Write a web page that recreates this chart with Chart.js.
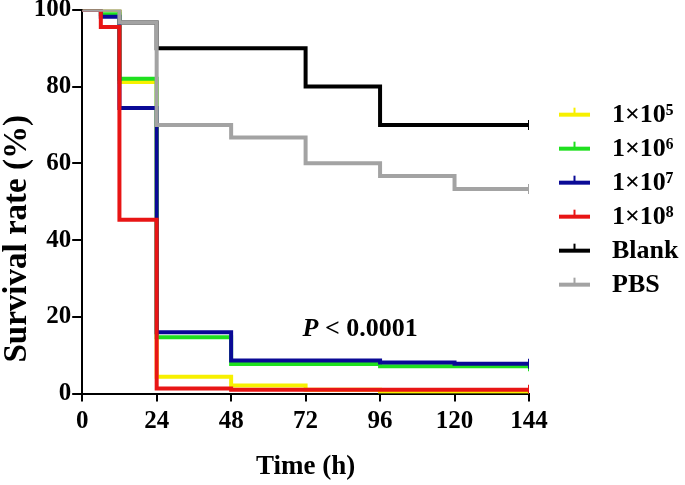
<!DOCTYPE html>
<html>
<head>
<meta charset="utf-8">
<script src="https://cdn.jsdelivr.net/npm/chart.js@4/dist/chart.umd.min.js"></script>
<style>
  body { margin: 0; background: #fff; }
  #wrap { width: 685px; height: 485px; position: relative; }
</style>
</head>
<body>
<div id="wrap"><canvas id="chart1"></canvas></div>
<script>
// survival data (time in h, survival in %)
var xTicks = [0, 24, 48, 72, 96, 120, 144];
var yTicks = [0, 20, 40, 60, 80, 100];

var labels = ['1×10⁵', '1×10⁶', '1×10⁷', '1×10⁸', 'Blank', 'PBS'];

var t5 = [0, 12, 24, 48, 72, 96, 144];
var s5 = [100, 81.2, 4.4, 2.1, 1.0, 0.5, 0.5];

var t6 = [0, 6, 12, 24, 48, 96, 144];
var s6 = [100, 98.8, 82, 14.7, 7.7, 7.1, 7.1];

var t7 = [0, 6, 12, 24, 48, 96, 120, 144];
var s7 = [100, 98.2, 74.4, 16, 8.6, 8.1, 7.8, 7.8];

var t8 = [0, 6, 12, 24, 48, 144];
var s8 = [100, 95.5, 45.3, 1.3, 1.0, 1.0];

var tBlank = [0, 12, 24, 72, 96, 144];
var sBlank = [100, 96.7, 90, 80, 70, 70];

var tPbs = [0, 12, 24, 48, 72, 96, 120, 144];
var sPbs = [100, 96.7, 70, 66.7, 60, 56.7, 53.3, 53.3];

var colors = ['#f7f000', '#1fe01f', '#0a0a96', '#e81515', '#000000', '#a3a3a3'];
var drawOrder = [4, 3, 2, 1, 5, 0]; // PBS on top, then red

function pts(t, s) {
    return t.map(function (v, i) { return { x: v, y: s[i] }; });
}

var series = [pts(t5, s5), pts(t6, s6), pts(t7, s7), pts(t8, s8), pts(tBlank, sBlank), pts(tPbs, sPbs)];

var serif = "'Liberation Serif', 'DejaVu Serif', serif";

var datasets = series.map(function (d, i) {
    return {
        label: labels[i],
        data: d,
        borderColor: colors[i],
        backgroundColor: colors[i],
        borderWidth: 4,
        stepped: true,
        fill: false,
        order: drawOrder[i],
        pointStyle: 'line',
        rotation: 90,
        pointBorderWidth: 2,
        pointRadius: function (ctx) { return ctx.dataIndex === d.length - 1 ? 5 : 0; },
        pointHoverRadius: 0
    };
});

// "P < 0.0001" note inside the plot
var pNote = {
    id: 'pNote',
    afterDatasetsDraw: function (chart) {
        var ctx = chart.ctx;
        var x = chart.scales.x.getPixelForValue(71.0);
        var y = chart.scales.y.getPixelForValue(16.8);
        ctx.save();
        ctx.fillStyle = '#000';
        ctx.textBaseline = 'middle';
        ctx.textAlign = 'left';
        ctx.font = 'italic bold 26px ' + serif;
        ctx.fillText('P', x, y);
        var w = ctx.measureText('P ').width;
        ctx.font = 'bold 26px ' + serif;
        ctx.fillText('< 0.0001', x + w, y);
        ctx.restore();
    }
};

// legend on the right, line with a small censor tick like the original
var sideLegend = {
    id: 'sideLegend',
    afterDraw: function (chart) {
        var ctx = chart.ctx;
        var a = chart.chartArea;
        var mid = (a.top + a.bottom) / 2 - 2;
        var x0 = a.right + 30, x1 = a.right + 61;
        ctx.save();
        chart.data.datasets.forEach(function (ds, i) {
            var y = mid + (i - 2.5) * 34;
            ctx.strokeStyle = ds.borderColor;
            ctx.lineWidth = 4;
            ctx.beginPath();
            ctx.moveTo(x0, y);
            ctx.lineTo(x1, y);
            ctx.stroke();
            ctx.lineWidth = 2;
            ctx.beginPath();
            ctx.moveTo((x0 + x1) / 2, y);
            ctx.lineTo((x0 + x1) / 2, y - 7);
            ctx.stroke();
            ctx.fillStyle = '#000';
            ctx.font = 'bold 26px ' + serif;
            ctx.textBaseline = 'middle';
            ctx.textAlign = 'left';
            ctx.fillText(ds.label, a.right + 83, y + 1);
        });
        ctx.restore();
    }
};

const chart1 = new Chart(document.getElementById('chart1'), {
    type: 'line',
    data: { datasets: datasets },
    options: {
        responsive: true,
        maintainAspectRatio: false,
        animation: false,
        layout: { padding: { top: 6, right: 156, left: 3, bottom: 2 } },
        plugins: {
            tooltip: { enabled: false },
            legend: { display: false }
        },
        scales: {
            x: {
                type: 'linear',
                min: 0,
                max: 144,
                afterBuildTicks: function (axis) { axis.ticks = xTicks.map(function (v) { return { value: v }; }); },
                ticks: { color: '#000', font: { family: serif, size: 25, weight: 'bold' }, padding: 5 },
                grid: { drawOnChartArea: false, drawTicks: true, tickLength: 8, color: '#000', lineWidth: 2 },
                border: { color: '#000', width: 2 },
                title: { display: true, text: 'Time (h)', color: '#000', font: { family: serif, size: 27, weight: 'bold' }, padding: { top: 9, bottom: 0 } }
            },
            y: {
                min: 0,
                max: 100,
                afterBuildTicks: function (axis) { axis.ticks = yTicks.map(function (v) { return { value: v }; }); },
                ticks: { color: '#000', font: { family: serif, size: 25, weight: 'bold', lineHeight: 0.7 }, padding: 1 },
                grid: { drawOnChartArea: false, drawTicks: true, tickLength: 10, color: '#000', lineWidth: 2 },
                border: { color: '#000', width: 2 },
                // trailing no-break spaces push the label down the axis, as in the figure
                title: { display: true, text: 'Survival rate (%)\u00a0\u00a0\u00a0\u00a0\u00a0\u00a0\u00a0\u00a0\u00a0', color: '#000', font: { family: serif, size: 33, weight: 'bold', lineHeight: 0.9 }, padding: { top: 0, bottom: 0 } }
            }
        }
    },
    plugins: [pNote, sideLegend]
});
</script>
</body>
</html>
